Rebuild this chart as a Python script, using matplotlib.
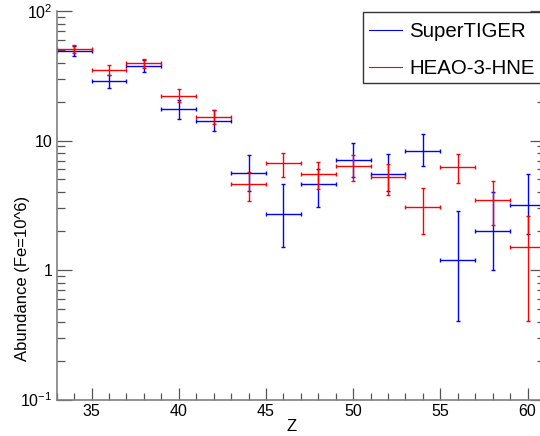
import matplotlib
matplotlib.use("Agg")
import matplotlib.pyplot as plt
from matplotlib.ticker import FixedLocator, FuncFormatter, MultipleLocator, NullFormatter
from matplotlib.lines import Line2D
from matplotlib.patches import Rectangle

plt.rcParams["font.family"] = ["Liberation Sans", "DejaVu Sans"]
plt.rcParams["mathtext.fontset"] = "custom"
plt.rcParams["mathtext.rm"] = "Liberation Sans"
plt.rcParams["mathtext.it"] = "Liberation Sans:italic"
plt.rcParams["mathtext.bf"] = "Liberation Sans:bold"

# Element charge Z (bin centres, bins 2 wide)
z = [34, 36, 38, 40, 42, 44, 46, 48, 50, 52, 54, 56, 58, 60]
z_half = 1.0

# SuperTIGER abundances (Fe = 10^6) with upper / lower error limits
supertiger = [49.0, 28.6, 37.3, 17.4, 14.2, 5.65, 2.71, 4.59, 7.08, 5.50, 8.34, 1.20, 2.01, 3.20]
supertiger_hi = [53.5, 32.0, 41.8, 20.4, 17.1, 7.77, 4.59, 6.00, 9.62, 7.83, 11.2, 2.83, 3.99, 5.49]
supertiger_lo = [44.8, 25.4, 33.6, 14.6, 11.8, 4.08, 1.50, 3.09, 5.20, 4.10, 6.39, 0.404, 1.00, 1.89]

# HEAO-3-HNE abundances
heao = [51.0, 35.0, 39.4, 22.2, 15.3, 4.59, 6.74, 5.52, 6.33, 5.18, 3.07, 6.28, 3.50, 1.51]
heao_hi = [54.2, 38.0, 42.3, 24.8, 17.3, 5.75, 8.05, 6.79, 7.72, 6.57, 4.28, 7.83, 4.85, 2.60]
heao_lo = [47.0, 32.0, 36.4, 19.7, 13.3, 3.42, 5.26, 4.21, 4.86, 3.78, 1.89, 4.73, 2.22, 0.404]

series = [
    ("SuperTIGER", "#0000ff", supertiger, supertiger_hi, supertiger_lo),
    ("HEAO-3-HNE", "#ff0000", heao, heao_hi, heao_lo),
]

W, H = 540, 436
fig = plt.figure(figsize=(W / 100, H / 100), dpi=100)
px_l, px_r, px_t, px_b = 56.7, 545.0, 11.0, 399.5
ax = fig.add_axes([px_l / W, 1 - px_b / H, (px_r - px_l) / W, (px_b - px_t) / H])

for name, color, val, hi, lo in series:
    yerr = [[v - l for v, l in zip(val, lo)], [h - v for v, h in zip(val, hi)]]
    ax.errorbar(z, val, xerr=z_half, yerr=yerr, fmt="none", ecolor=color,
                elinewidth=1.0, capsize=1.4, capthick=1.0)

ax.set_yscale("log")
ax.set_xlim(33, 61)
ax.set_ylim(0.1, 100)

ax.xaxis.set_major_locator(MultipleLocator(5))
ax.xaxis.set_minor_locator(MultipleLocator(1))
ax.yaxis.set_major_locator(FixedLocator([0.1, 1, 10, 100]))
ax.yaxis.set_minor_locator(FixedLocator([m * 10.0 ** e for e in (-1, 0, 1) for m in range(2, 10)]))
ax.yaxis.set_minor_formatter(NullFormatter())
ylabels = {0.1: r"$10^{-1}$", 1: "1", 10: "10", 100: r"$10^{2}$"}
ax.yaxis.set_major_formatter(FuncFormatter(
    lambda v, p: min(ylabels.items(), key=lambda kv: abs(kv[0] - v))[1]))

for s in ("top", "right"):
    ax.spines[s].set_visible(False)
for s in ("left", "bottom"):
    ax.spines[s].set_color("#808080")
    ax.spines[s].set_linewidth(1.2)

ax.tick_params(which="both", direction="in", colors="#555555", labelcolor="black",
               labelsize=11.5, width=0.9)
ax.tick_params(axis="y", which="both", left=True, right=True, pad=3)
ax.tick_params(axis="y", which="major", length=10.8)
ax.tick_params(axis="y", which="minor", length=5.8)
ax.tick_params(axis="x", which="both", bottom=True, top=False, pad=3.5)
ax.tick_params(axis="x", which="major", length=8.6)
ax.tick_params(axis="x", which="minor", length=5.0)

fig.text(23 / W, 1 - 278 / H, "Abundance (Fe=10^6)", rotation=90,
         ha="center", va="center", fontsize=12)
fig.text(292 / W, 1 - 426 / H, "Z", ha="center", va="center", fontsize=12)

# legend box
lx0, lx1, ly0, ly1 = 362.7, 545.0, 11.7, 83.3
fig.add_artist(Rectangle((lx0 / W, 1 - ly1 / H), (lx1 - lx0) / W, (ly1 - ly0) / H,
                         transform=fig.transFigure, facecolor="white",
                         edgecolor="#333333", linewidth=1.0, zorder=5))
for (name, color, *_), yline, ybase in zip(series, (30.0, 66.7), (37.3, 74.0)):
    fig.add_artist(Line2D([369 / W, 401.7 / W], [1 - yline / H, 1 - yline / H],
                          transform=fig.transFigure, color=color, linewidth=0.8, zorder=6))
    fig.text(409.3 / W, 1 - ybase / H, name, ha="left", va="baseline",
             fontsize=14.7, zorder=6)

fig.savefig("out.png", dpi=100)
